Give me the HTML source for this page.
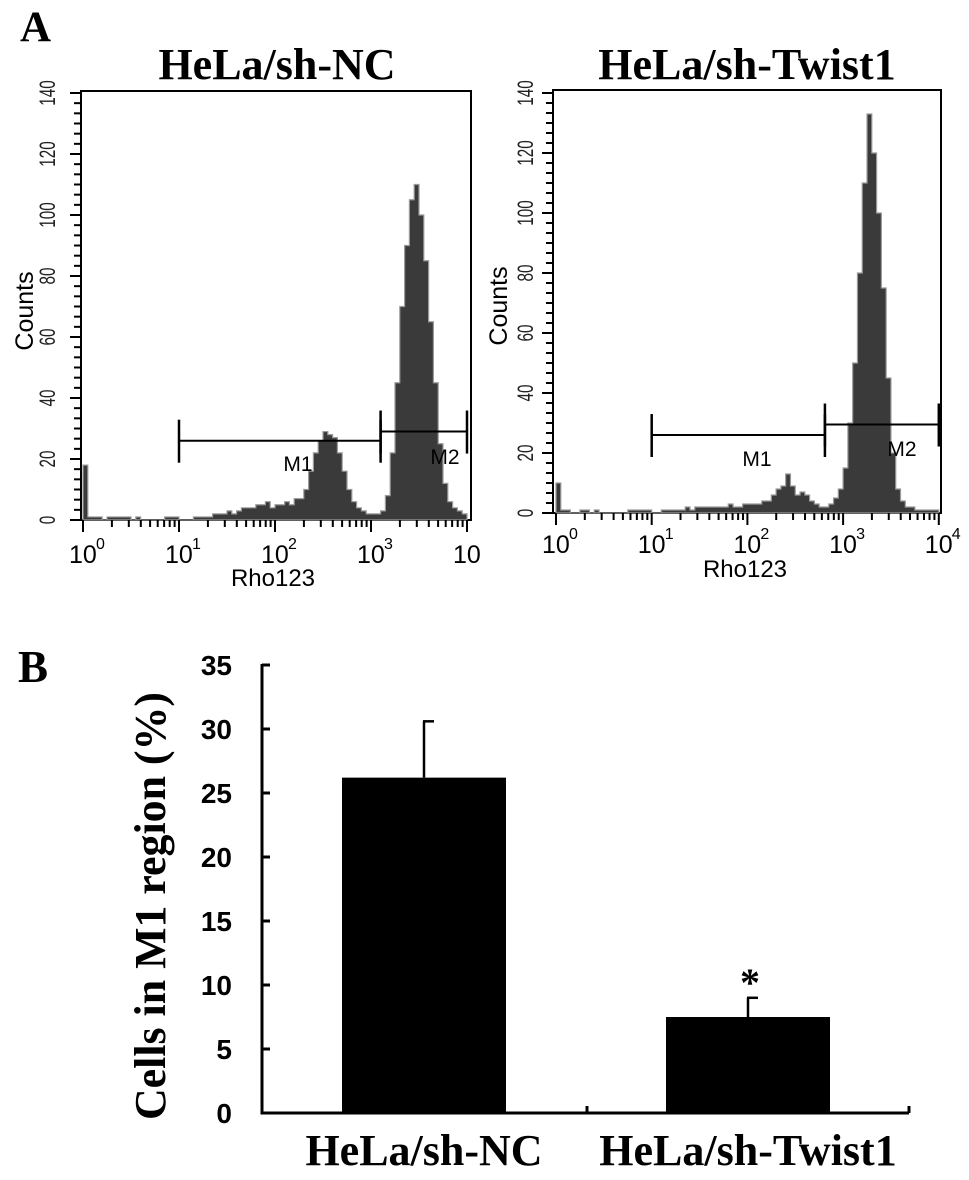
<!DOCTYPE html>
<html><head><meta charset="utf-8"><style>
html,body{margin:0;padding:0;background:#fff;}
svg{display:block;}
.ser{font-family:"Liberation Serif",serif;font-weight:bold;}
.san{font-family:"Liberation Sans",sans-serif;}
</style></head><body>
<svg id="fig" width="969" height="1180" viewBox="0 0 969 1180" xmlns="http://www.w3.org/2000/svg">
<text class="ser" x="20" y="41" font-size="43">A</text>
<text class="ser" x="18" y="682" font-size="45">B</text>
<g id="hleft"></g>
<g id="hright"></g>
<g id="bars"></g>
</svg>
<script>
// Histogram data: counts per 0.05-decade bin from 10^0 to 10^4
const ncCounts = [18,1,1,1,0,1,1,1,1,1,0,1,0,0,0,0,0,1,1,1,0,0,0,1,1,1,1,2,2,2,3,2,3,4,4,4,5,5,6,4,5,5,6,5,7,7,10,16,22,26,29,28,27,22,16,10,6,4,3,2,2,2,3,8,22,45,70,90,105,110,100,85,65,45,25,12,6,4,3,2];
const twCounts = [10,1,1,0,0,1,1,0,1,0,0,0,0,0,0,1,1,1,1,1,0,0,1,1,1,1,1,2,1,2,2,2,2,2,2,2,3,2,2,3,3,3,3,4,4,6,8,9,13,9,6,7,6,4,3,2,2,3,5,8,15,30,50,80,110,133,120,100,75,45,20,8,4,2,2,1,1,1,1,1];
const yTicks = [0,20,40,60,80,100,120,140];
const decades = [0,1,2,3,4];
// Markers: [startLog, endLog, level]
const ncM1 = [1, 3.1, 26], ncM2 = [3.1, 4.0, 29];
const twM1 = [1, 2.81, 26], twM2 = [2.81, 4.0, 29.5];

// Bar data
const barCats = ["HeLa/sh-NC","HeLa/sh-Twist1"];
const barVals = [26.2, 7.5];
const barErrs = [4.4, 1.5];
const barTicks = [0,5,10,15,20,25,30,35];

const NS="http://www.w3.org/2000/svg";
function mk(parent,tag,attrs,text){const e=document.createElementNS(NS,tag);for(const k in attrs)e.setAttribute(k,attrs[k]);if(text!==undefined)e.textContent=text;parent.appendChild(e);return e;}

function histogram(g,counts,m1,m2,L){
  const xs=v=>L.x0+(v)*L.dec;
  const ys=c=>L.y0-c*L.py;
  const f=mk(g,'rect',{x:L.left,y:L.top,width:L.right-L.left,height:L.y0-L.top,fill:'none',stroke:'#000','stroke-width':2});
  
  let d='M'+xs(0)+','+ys(0);
  const bw=0.05;
  counts.forEach((c,i)=>{d+=' L'+xs(i*bw)+','+ys(c)+' L'+xs((i+1)*bw)+','+ys(c);});
  d+=' L'+xs(counts.length*bw)+','+ys(0)+' Z';
  const p=mk(g,'path',{d:d,fill:'#3a3a3a',stroke:'#9a9a9a','stroke-width':1.2});
  
  for(let v=0;v<=140;v+=20/6){const maj=Math.abs(v/20-Math.round(v/20))<0.01;
    mk(g,'line',{x1:L.left-(maj?11:7),x2:L.left,y1:ys(v),y2:ys(v),stroke:'#000','stroke-width':2});}
  yTicks.forEach(v=>{const t=mk(g,'text',{x:0,y:0,transform:`translate(${L.ylx},${ys(v)}) rotate(-90)`,'text-anchor':'middle','font-size':22,textLength:String(v).length*8.5,lengthAdjust:'spacingAndGlyphs',class:'san',fill:'#222'},String(v));
    });
  decades.forEach(k=>{const x=xs(k);if(x<=L.right+2)mk(g,'line',{x1:x,x2:x,y1:L.y0,y2:L.y0+12,stroke:'#000','stroke-width':2});
    if(k<4)for(let m=2;m<=9;m++){const xm=xs(k+Math.log10(m));mk(g,'line',{x1:xm,x2:xm,y1:L.y0,y2:L.y0+7,stroke:'#000','stroke-width':2});}
    const t=mk(g,'text',{x:x-14,y:L.tly,'font-size':25,class:'san'},'10');
    
    if(!(k==4&&L.cut)){mk(g,'text',{x:x+13,y:L.tly-14,'font-size':16,class:'san'},String(k));}
  });
  [[m1,'M1',L.m1lab],[m2,'M2',L.m2lab]].forEach(([m,name,lab])=>{
    const xa=xs(m[0]),xb=Math.min(xs(m[1]),L.right),y=ys(m[2]);
    const grp=mk(g,'g',{});
    mk(grp,'line',{x1:xa,x2:xb,y1:y,y2:y,stroke:'#000','stroke-width':2});
    mk(grp,'line',{x1:xa,x2:xa,y1:y-21,y2:y+22,stroke:'#000','stroke-width':2.5});
    mk(grp,'line',{x1:xb,x2:xb,y1:y-21,y2:y+22,stroke:'#000','stroke-width':2.5});
    mk(grp,'text',{x:lab[0],y:lab[1],'text-anchor':'middle','font-size':21,class:'san'},name);
  });
  const xl=mk(g,'text',{x:L.rhox,y:L.rhoy,'text-anchor':'middle','font-size':24,class:'san'},'Rho123');
  
  const yl=mk(g,'text',{x:0,y:0,transform:`translate(${L.cx},${L.cy}) rotate(-90)`,'text-anchor':'middle','font-size':25,class:'san'},'Counts');
  
  const tt=mk(g,'text',{x:L.titx,y:79,'text-anchor':'middle','font-size':44,class:'ser'},L.title);
  
}
histogram(document.getElementById('hleft'),ncCounts,ncM1,ncM2,{x0:83,dec:96,left:81,right:471,top:91,y0:520,py:3.05,ylx:55,tly:563,cut:true,m1lab:[298,471],m2lab:[445,464],rhox:273,rhoy:586,cx:33,cy:311,titx:277,title:'HeLa/sh-NC'});
histogram(document.getElementById('hright'),twCounts,twM1,twM2,{x0:556,dec:95.7,left:553,right:941,top:90,y0:513,py:3.0,ylx:533,tly:553,cut:false,m1lab:[757,466],m2lab:[902,456],rhox:745,rhoy:577,cx:507,cy:306,titx:747,title:'HeLa/sh-Twist1'});

(function(){
  const g=document.getElementById('bars');
  const X0=262,Y0=1113,PY=12.8,XR=909;
  const ys=v=>Y0-v*PY;
  const centers=[424,748],bw=164;
  mk(g,'line',{x1:X0,x2:X0,y1:ys(35)-1,y2:Y0+1.5,stroke:'#000','stroke-width':3});
  mk(g,'line',{x1:X0-1.5,x2:XR,y1:Y0,y2:Y0,stroke:'#000','stroke-width':3});
  [587,XR].forEach(x=>mk(g,'line',{x1:x,x2:x,y1:Y0-7,y2:Y0,stroke:'#000','stroke-width':3}));
  barTicks.forEach(v=>{mk(g,'line',{x1:X0,x2:X0+8,y1:ys(v),y2:ys(v),stroke:'#000','stroke-width':3});
    const t=mk(g,'text',{x:232,y:ys(v)+10,'text-anchor':'end','font-size':28,'font-weight':'bold',class:'san'},String(v));
    });
  barVals.forEach((v,i)=>{
    const c=centers[i];
    const r=mk(g,'rect',{x:c-bw/2,y:ys(v),width:bw,height:Y0-ys(v),fill:'#000'});
    
    
    const e=mk(g,'g',{});
    
    
    mk(e,'line',{x1:c,x2:c,y1:ys(v),y2:ys(v+barErrs[i]),stroke:'#000','stroke-width':2.5});
    mk(e,'line',{x1:c-1,x2:c+10,y1:ys(v+barErrs[i]),y2:ys(v+barErrs[i]),stroke:'#000','stroke-width':2.5});
    const l=mk(g,'text',{x:c,y:1165,'text-anchor':'middle','font-size':44,class:'ser'},barCats[i]);
    
  });
  const s=mk(g,'text',{x:centers[1]+2,y:ys(barVals[1]+barErrs[1])-2,'text-anchor':'middle','font-size':40,class:'ser'},'*');
  
  const yt=mk(g,'text',{x:0,y:0,transform:'translate(165,906) rotate(-90)','text-anchor':'middle','font-size':44,textLength:428,lengthAdjust:'spacingAndGlyphs',class:'ser'},'Cells in M1 region (%)');
  
})();
</script>
</body></html>
